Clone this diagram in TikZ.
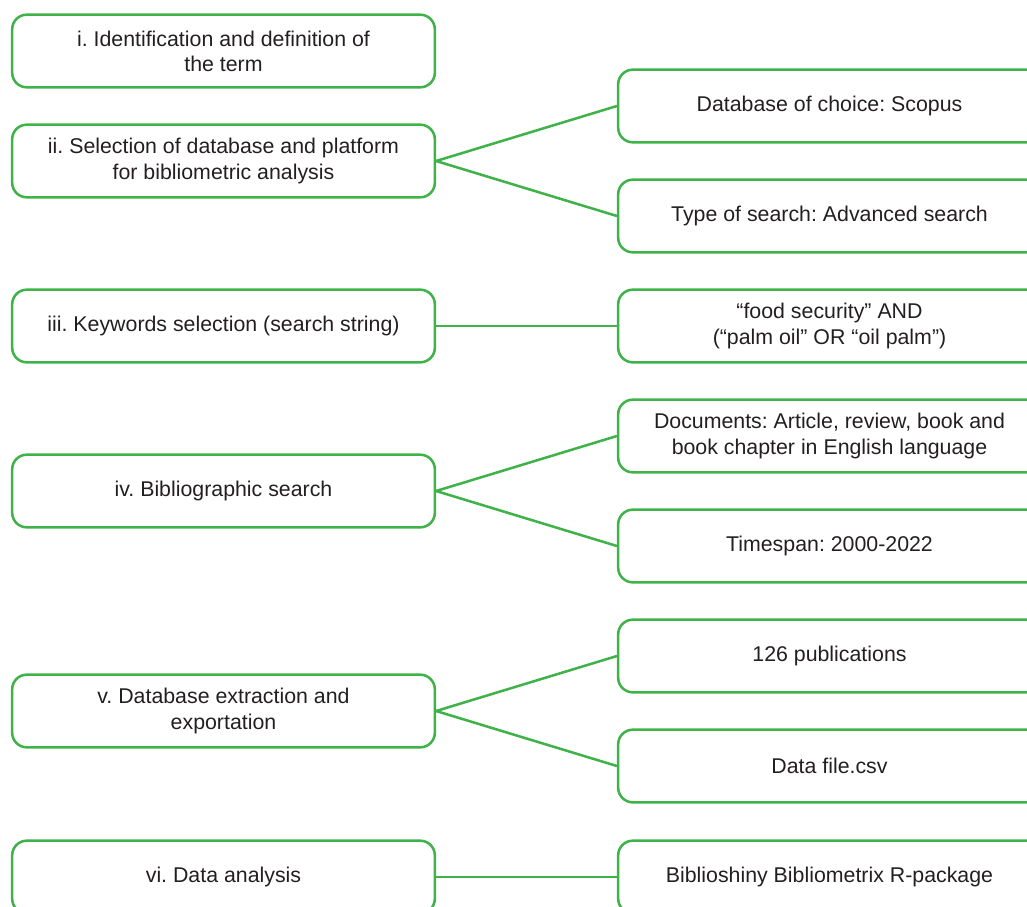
\documentclass[tikz,border=0pt]{standalone}
\usepackage{fontspec}
\setmainfont{Liberation Sans}
\frenchspacing
\definecolor{stepgreen}{RGB}{64,178,74}
\definecolor{steptext}{RGB}{35,31,32}
\tikzset{
  stepbox/.style={draw=stepgreen,line width=1.9pt,rounded corners=11pt,
    minimum width=317pt,minimum height=54.5pt,align=center,text=steptext,
    font=\fontsize{16}{18.8}\selectfont},
  link/.style={draw=stepgreen,line width=1.9pt}
}
\begin{document}
\begin{tikzpicture}[yscale=-1,x=.75pt,y=.75pt]
    \useasboundingbox (0,0) rectangle (1027,906);
    \clip (0,0) rectangle (1027,906);
    % steps on the left
    \node[stepbox] (s1) at (223.5,51) {i. Identification and definition of\\the term};
    \node[stepbox] (s2) at (223.5,161) {ii. Selection of database and platform\\for bibliometric analysis};
    \node[stepbox] (s3) at (223.5,326) {iii. Keywords selection (search string)};
    \node[stepbox] (s4) at (223.5,491) {iv. Bibliographic search};
    \node[stepbox] (s5) at (223.5,711) {v. Database extraction and\\exportation};
    \node[stepbox] (s6) at (223.5,877) {vi. Data analysis};
    % details on the right
    \foreach \name/\y/\txt in {
        d1/106/{Database of choice: Scopus},
        d2/216/{Type of search: Advanced search},
        d3/326/{“food security” AND\\(“palm oil” OR “oil palm”)},
        d4/436/{Documents: Article, review, book and\\book chapter in English language},
        d5/546/{Timespan: 2000-2022},
        d6/656/{126 publications},
        d7/766/{Data file.csv},
        d8/877/{Biblioshiny Bibliometrix R-package}} {
      \node[stepbox] (\name) at (829.5,\y) {\txt};
    }
    \foreach \from/\to in {s2/d1,s2/d2,s3/d3,s4/d4,s4/d5,s5/d6,s5/d7,s6/d8}
      \draw[link] (\from.east) -- (\to.west);
  \end{tikzpicture}
\end{document}
